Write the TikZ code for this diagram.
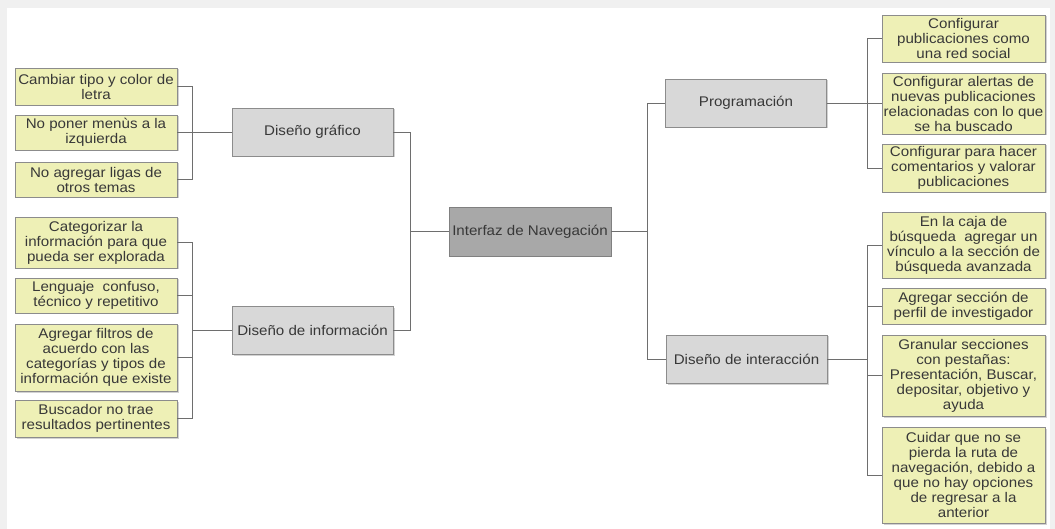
\documentclass[tikz,border=0pt]{standalone}
\usepackage{fontspec}
\setmainfont{Liberation Sans}[FakeStretch=1.08]
\usetikzlibrary{shadows}
\definecolor{hoja}{RGB}{238,240,182}
\definecolor{rama}{RGB}{216,216,216}
\definecolor{raiz}{RGB}{168,168,168}
\definecolor{linea}{RGB}{110,110,110}
\begin{document}
\begin{tikzpicture}[x=1pt, y=-1pt,
  every node/.style={font=\fontsize{14}{15}\selectfont, text=black!78, align=center, inner sep=0pt},
  hoja/.style={draw=black!45, fill=hoja, line width=0.8pt, minimum width=#1, drop shadow={shadow xshift=1.5pt, shadow yshift=-1.5pt, fill=black!35}},
  hoja/.default=162pt,
  rama/.style={draw=black!45, fill=rama, line width=0.8pt, minimum width=161pt, minimum height=48pt, drop shadow={shadow xshift=1.5pt, shadow yshift=-1.5pt, fill=black!35}},
  raiz/.style={draw=black!50, fill=raiz, line width=0.8pt, minimum width=162pt, minimum height=49pt},
  con/.style={draw=linea, line width=0.8pt}]
  \fill[black!6] (0,0) rectangle (1055,529);
  \fill[white] (7,8) rectangle (1050,529);
  % centro
  \node[raiz] (raiz) at (530,231.5) {Interfaz de Navegación};
  % ramas
  \node[rama] (dg) at (312.5,132) {Diseño gráfico};
  \node[rama] (di) at (312.5,330.5) {Diseño de información};
  \node[rama] (pr) at (746,103) {Programación};
  \node[rama] (dint) at (746.5,359) {Diseño de interacción};
  % hojas izquierda
  \node[hoja, minimum height=37pt] (g1) at (96,86.5) {Cambiar tipo y color de\\letra};
  \node[hoja, minimum height=35pt] (g2) at (96,132.5) {No poner menùs a la\\izquierda};
  \node[hoja, minimum height=35pt] (g3) at (96,179.5) {No agregar ligas de\\otros temas};
  \node[hoja, minimum height=51pt] (i1) at (96,242.5) {Categorizar la\\información para que\\pueda ser explorada};
  \node[hoja, minimum height=35pt] (i2) at (96,295.5) {Lenguaje\ \ confuso,\\técnico y repetitivo};
  \node[hoja, minimum height=67pt] (i3) at (96,357.5) {Agregar filtros de\\acuerdo con las\\categorías y tipos de\\información que existe};
  \node[hoja, minimum height=37pt] (i4) at (96,418.5) {Buscador no trae\\resultados pertinentes};
  % hojas derecha
  \node[hoja=163pt, minimum height=47pt] (p1) at (963.5,38.5) {Configurar\\publicaciones como\\una red social};
  \node[hoja=163pt, minimum height=61pt] (p2) at (963.5,103.5) {Configurar alertas de\\nuevas publicaciones\\relacionadas con lo que\\se ha buscado};
  \node[hoja=163pt, minimum height=48pt] (p3) at (963.5,168) {Configurar para hacer\\comentarios y valorar\\publicaciones};
  \node[hoja=163pt, minimum height=66pt] (n1) at (963.5,245) {En la caja de\\búsqueda\ \ agregar un\\vínculo a la sección de\\búsqueda avanzada};
  \node[hoja=163pt, minimum height=36pt] (n2) at (963.5,306) {Agregar sección de\\perfil de investigador};
  \node[hoja=163pt, minimum height=81pt] (n3) at (963.5,375.5) {Granular secciones\\con pestañas:\\Presentación, Buscar,\\depositar, objetivo y\\ayuda};
  \node[hoja=163pt, minimum height=96pt] (n4) at (963.5,475) {Cuidar que no se\\pierda la ruta de\\navegación, debido a\\que no hay opciones\\de regresar a la\\anterior};
  % conectores
  \draw[con] (raiz.west) -- ++(-39,0);
  \draw[con] (dg.east) -- ++(17,0) |- (di.east);
  \draw[con] (raiz.east) -- ++(37,0);
  \draw[con] (pr.west) -- ++(-18,0) |- (dint.west);
  \foreach \n in {g1,g2,g3} \draw[con] (dg.west) -- ++(-39,0) |- (\n.east);
  \foreach \n in {i1,i2,i3,i4} \draw[con] (di.west) -- ++(-39,0) |- (\n.east);
  \foreach \n in {p1,p2,p3} \draw[con] (pr.east) -- ++(40,0) |- (\n.west);
  \foreach \n in {n1,n2,n3,n4} \draw[con] (dint.east) -- ++(40,0) |- (\n.west);
\end{tikzpicture}
\end{document}
